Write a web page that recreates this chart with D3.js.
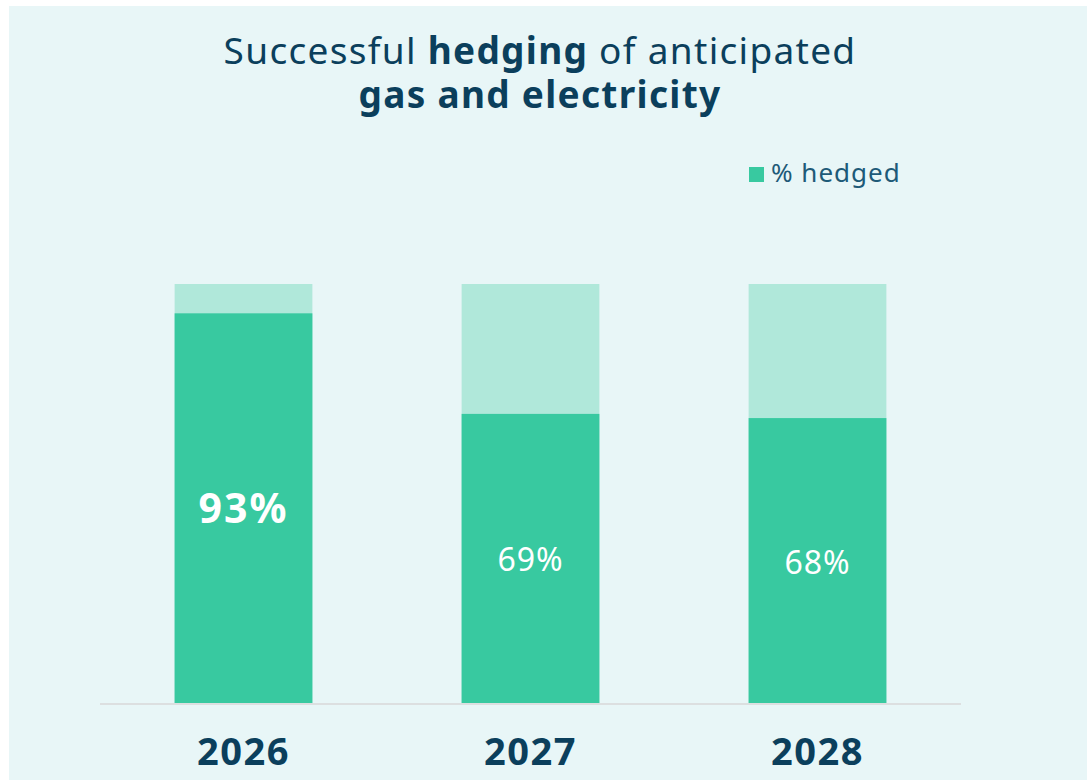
<!DOCTYPE html>
<html>
<head>
<meta charset="utf-8">
<script src="https://cdn.jsdelivr.net/npm/d3@7"></script>
<style>
  body { margin: 0; background: #fff; }
  text { font-family: "Noto Sans", sans-serif; }
</style>
</head>
<body>
<div class="container"></div>
<script>
let width = 1087
let height = 780

// chart data
let years = ["2026", "2027", "2028"]
let hedged = [93, 69, 68]
let total = [100, 100, 100]

let darkBlue = "#0b3f5c"
let green = "#38c9a0"
let lightGreen = "#b0e8da"

let svg = d3.select(".container")
  .append("svg")
  .attr("width", width)
  .attr("height", height)

svg.append("rect")
  .attr("x", 9)
  .attr("y", 6)
  .attr("width", width - 9)
  .attr("height", height - 6)
  .attr("fill", "#e8f6f7")

let x = d3.scaleBand()
  .domain(years)
  .range([100, 961])
  .paddingInner(0.52)
  .paddingOuter(0.26)

let y = d3.scaleLinear()
  .domain([0, 100])
  .range([703, 284])

// title, two lines
let title = svg.append("text")
  .attr("text-anchor", "middle")
  .attr("fill", darkBlue)
  .attr("font-size", "37px")
  .attr("letter-spacing", "1.3px")
  .attr("x", 540).attr("y", 64)
title.append("tspan")
  .text("Successful ")
title.append("tspan")
  .attr("font-weight", "bold")
  .text("hedging")
title.append("tspan")
  .text(" of anticipated")

svg.append("text")
  .attr("text-anchor", "middle")
  .attr("fill", darkBlue)
  .attr("font-size", "37px")
  .attr("letter-spacing", "1.3px")
  .attr("font-weight", "bold")
  .attr("x", 540).attr("y", 108)
  .text("gas and electricity")

// legend
svg.append("rect")
  .attr("x", 749).attr("y", 167)
  .attr("width", 15).attr("height", 15)
  .attr("fill", green)
svg.append("text")
  .attr("x", 771).attr("y", 182)
  .attr("font-size", "26px")
  .attr("letter-spacing", "1px")
  .attr("fill", "#1e5a78")
  .text("% hedged")

// background (total) bars
svg.selectAll(".totalBar")
  .data(years)
  .enter()
  .append("rect")
  .attr("class", "totalBar")
  .attr("x", function (d) { return x(d) })
  .attr("y", function (d, i) { return y(total[i]) })
  .attr("width", x.bandwidth())
  .attr("height", function (d, i) { return y(0) - y(total[i]) })
  .attr("fill", lightGreen)

// hedged bars
svg.selectAll(".hedgedBar")
  .data(years)
  .enter()
  .append("rect")
  .attr("class", "hedgedBar")
  .attr("x", function (d) { return x(d) })
  .attr("y", function (d, i) { return y(hedged[i]) })
  .attr("width", x.bandwidth())
  .attr("height", function (d, i) { return y(0) - y(hedged[i]) })
  .attr("fill", green)

// baseline
svg.append("line")
  .attr("x1", 100).attr("x2", 961)
  .attr("y1", y(0) + 1).attr("y2", y(0) + 1)
  .attr("stroke", "#dcdfe0")
  .attr("stroke-width", 2)

// value labels
svg.selectAll(".valueText")
  .data(years)
  .enter()
  .append("text")
  .attr("class", "valueText")
  .attr("x", function (d) { return x(d) + x.bandwidth() / 2 })
  .attr("y", function (d, i) { return (y(hedged[i]) + y(0)) / 2 + (i === 0 ? 15 : 13) })
  .attr("text-anchor", "middle")
  .attr("fill", "#fff")
  .attr("font-weight", function (d, i) { return i === 0 ? "bold" : "normal" })
  .attr("font-size", function (d, i) { return i === 0 ? "41px" : "32px" })
  .attr("letter-spacing", function (d, i) { return i === 0 ? "2px" : "1px" })
  .text(function (d, i) { return hedged[i] + "%" })

// year labels
svg.selectAll(".yearText")
  .data(years)
  .enter()
  .append("text")
  .attr("class", "yearText")
  .attr("x", function (d) { return x(d) + x.bandwidth() / 2 })
  .attr("y", 765)
  .attr("text-anchor", "middle")
  .attr("fill", darkBlue)
  .attr("font-weight", "bold")
  .attr("font-size", "38px")
  .attr("letter-spacing", "1.5px")
  .text(function (d) { return d })
</script>
</body>
</html>
